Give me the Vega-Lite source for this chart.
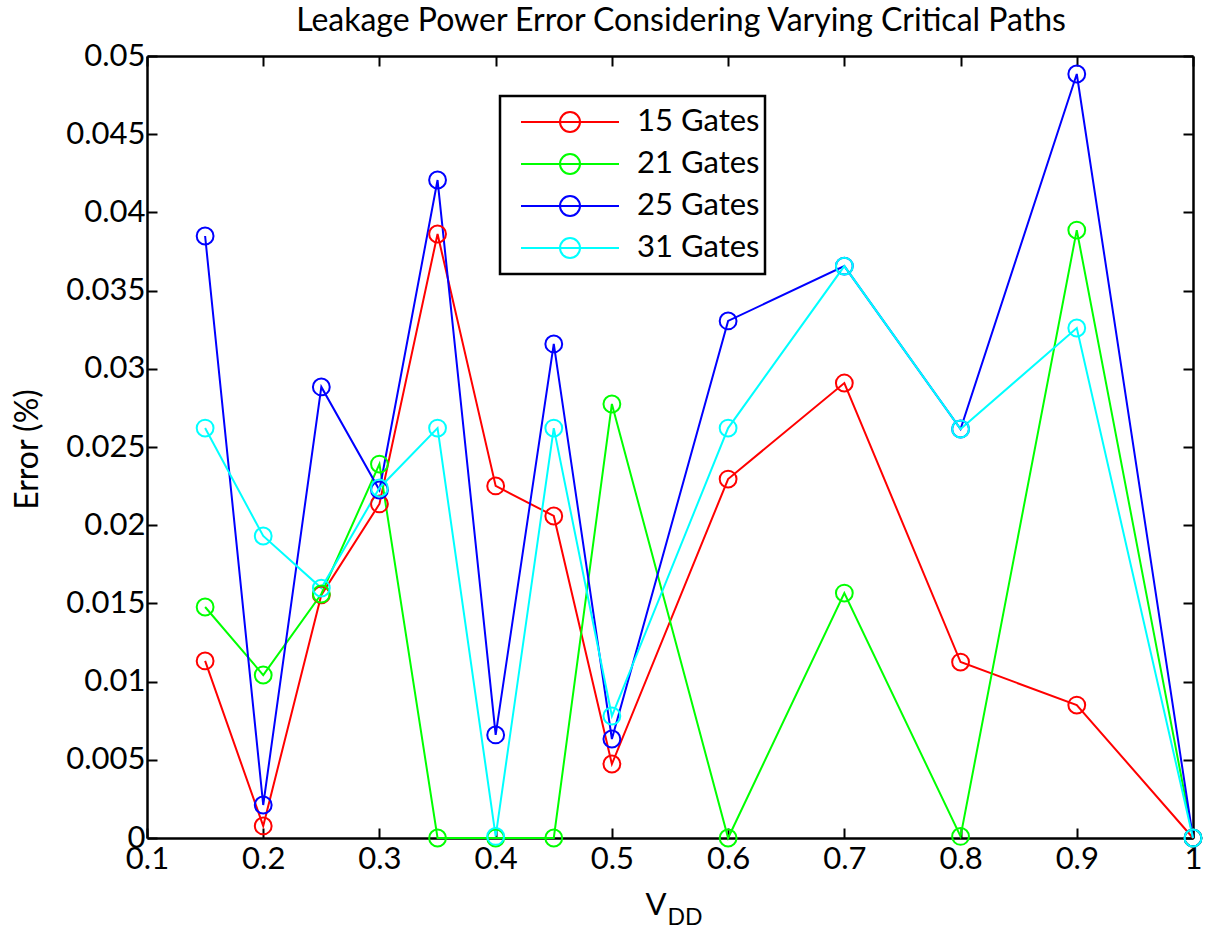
{
  "$schema": "https://vega.github.io/schema/vega-lite/v6.json",
  "width": 1046,
  "height": 782,
  "autosize": {"type": "none"},
  "padding": {"left": 147, "top": 56, "right": 20, "bottom": 94},
  "background": "white",
  "title": {
    "text": "Leakage Power Error Considering Varying Critical Paths",
    "font": "Lato",
    "fontSize": 32,
    "fontWeight": "normal",
    "color": "black",
    "anchor": "middle",
    "baseline": "alphabetic",
    "offset": -23,
    "dx": 11
  },
  "config": {
    "view": {"stroke": null},
    "axis": {
      "domainColor": "black",
      "domainWidth": 2.5,
      "tickColor": "black",
      "tickWidth": 2,
      "tickSize": -10,
      "labelFont": "Lato",
      "labelFontSize": 31,
      "labelColor": "black",
      "labelFlush": false,
      "labelOverlap": false,
      "titleFont": "Lato",
      "titleFontWeight": "normal",
      "titleColor": "black",
      "grid": false
    },
    "legend": {
      "orient": "none",
      "legendX": 353,
      "legendY": 40,
      "title": null,
      "symbolType": "M-1,0M-0.735,0L1,0M0.31,0A0.177,0.177,0,1,1,-0.044,0A0.177,0.177,0,1,1,0.31,0",
      "symbolSize": 12769,
      "symbolStrokeWidth": 2,
      "symbolFillColor": "transparent",
      "clipHeight": 42,
      "rowPadding": 0,
      "labelFont": "Lato",
      "labelFontSize": 31,
      "labelColor": "black",
      "labelOffset": 17,
      "labelLimit": 400,
      "padding": 5,
      "strokeColor": "black",
      "strokeWidth": 2.5,
      "fillColor": "white"
    }
  },
  "data": {
    "values": [
      {"vdd": 0.15, "series": "15 Gates", "err": 0.01132},
      {"vdd": 0.2, "series": "15 Gates", "err": 0.00077},
      {"vdd": 0.25, "series": "15 Gates", "err": 0.01554},
      {"vdd": 0.3, "series": "15 Gates", "err": 0.02136},
      {"vdd": 0.35, "series": "15 Gates", "err": 0.03862},
      {"vdd": 0.4, "series": "15 Gates", "err": 0.02251},
      {"vdd": 0.45, "series": "15 Gates", "err": 0.02059},
      {"vdd": 0.5, "series": "15 Gates", "err": 0.00473},
      {"vdd": 0.6, "series": "15 Gates", "err": 0.02295},
      {"vdd": 0.7, "series": "15 Gates", "err": 0.02909},
      {"vdd": 0.8, "series": "15 Gates", "err": 0.01125},
      {"vdd": 0.9, "series": "15 Gates", "err": 0.0085},
      {"vdd": 1.0, "series": "15 Gates", "err": 0},
      {"vdd": 0.15, "series": "21 Gates", "err": 0.01477},
      {"vdd": 0.2, "series": "21 Gates", "err": 0.01042},
      {"vdd": 0.25, "series": "21 Gates", "err": 0.0156},
      {"vdd": 0.3, "series": "21 Gates", "err": 0.02391},
      {"vdd": 0.35, "series": "21 Gates", "err": 0},
      {"vdd": 0.4, "series": "21 Gates", "err": 0},
      {"vdd": 0.45, "series": "21 Gates", "err": 0},
      {"vdd": 0.5, "series": "21 Gates", "err": 0.02775},
      {"vdd": 0.6, "series": "21 Gates", "err": 0},
      {"vdd": 0.7, "series": "21 Gates", "err": 0.01566},
      {"vdd": 0.8, "series": "21 Gates", "err": 0.0001},
      {"vdd": 0.9, "series": "21 Gates", "err": 0.03887},
      {"vdd": 1.0, "series": "21 Gates", "err": 0},
      {"vdd": 0.15, "series": "25 Gates", "err": 0.03849},
      {"vdd": 0.2, "series": "25 Gates", "err": 0.00211},
      {"vdd": 0.25, "series": "25 Gates", "err": 0.02884},
      {"vdd": 0.3, "series": "25 Gates", "err": 0.02225},
      {"vdd": 0.35, "series": "25 Gates", "err": 0.04207},
      {"vdd": 0.4, "series": "25 Gates", "err": 0.00659},
      {"vdd": 0.45, "series": "25 Gates", "err": 0.03159},
      {"vdd": 0.5, "series": "25 Gates", "err": 0.00633},
      {"vdd": 0.6, "series": "25 Gates", "err": 0.03306},
      {"vdd": 0.7, "series": "25 Gates", "err": 0.03657},
      {"vdd": 0.8, "series": "25 Gates", "err": 0.02615},
      {"vdd": 0.9, "series": "25 Gates", "err": 0.04885},
      {"vdd": 1.0, "series": "25 Gates", "err": 0},
      {"vdd": 0.15, "series": "31 Gates", "err": 0.02621},
      {"vdd": 0.2, "series": "31 Gates", "err": 0.01931},
      {"vdd": 0.25, "series": "31 Gates", "err": 0.01598},
      {"vdd": 0.3, "series": "31 Gates", "err": 0.02238},
      {"vdd": 0.35, "series": "31 Gates", "err": 0.02621},
      {"vdd": 0.4, "series": "31 Gates", "err": 0.0001},
      {"vdd": 0.45, "series": "31 Gates", "err": 0.02621},
      {"vdd": 0.5, "series": "31 Gates", "err": 0.0078},
      {"vdd": 0.6, "series": "31 Gates", "err": 0.02621},
      {"vdd": 0.7, "series": "31 Gates", "err": 0.03657},
      {"vdd": 0.8, "series": "31 Gates", "err": 0.02615},
      {"vdd": 0.9, "series": "31 Gates", "err": 0.03261},
      {"vdd": 1.0, "series": "31 Gates", "err": 0}
    ]
  },
  "layer": [
    {
      "mark": {
        "type": "line",
        "strokeWidth": 2,
        "point": {"filled": false, "size": 283, "strokeWidth": 2}
      },
      "encoding": {
        "x": {
          "field": "vdd",
          "type": "quantitative",
          "scale": {"domain": [0.1, 1], "nice": false, "zero": false},
          "axis": {
            "orient": "bottom",
            "values": [0.1, 0.2, 0.3, 0.4, 0.5, 0.6, 0.7, 0.8, 0.9, 1],
            "format": "~g",
            "labelPadding": 16,
            "title": "V",
            "titleFontSize": 31,
            "titleX": 498,
            "titleY": 76,
            "titleAlign": "left",
            "titleBaseline": "alphabetic"
          }
        },
        "y": {
          "field": "err",
          "type": "quantitative",
          "scale": {"domain": [0, 0.05], "nice": false, "zero": false},
          "axis": {
            "orient": "left",
            "values": [0, 0.005, 0.01, 0.015, 0.02, 0.025, 0.03, 0.035, 0.04, 0.045, 0.05],
            "format": "~g",
            "labelPadding": 12,
            "title": "Error (%)",
            "titleFontSize": 32,
            "titleAngle": -90,
            "titleX": -135,
            "titleY": 393,
            "titleAlign": "center",
            "titleBaseline": "top"
          }
        },
        "color": {
          "field": "series",
          "type": "nominal",
          "scale": {
            "domain": ["15 Gates", "21 Gates", "25 Gates", "31 Gates"],
            "range": ["#ff0000", "#00ff00", "#0000ff", "#00ffff"]
          }
        }
      }
    },
    {
      "mark": {"type": "point", "opacity": 0},
      "encoding": {
        "x": {
          "field": "vdd",
          "type": "quantitative",
          "scale": {"domain": [0.1, 1], "nice": false, "zero": false},
          "axis": {
            "orient": "top",
            "values": [0.1, 0.2, 0.3, 0.4, 0.5, 0.6, 0.7, 0.8, 0.9, 1],
            "labels": false,
            "title": null
          }
        },
        "y": {
          "field": "err",
          "type": "quantitative",
          "scale": {"domain": [0, 0.05], "nice": false, "zero": false},
          "axis": {
            "orient": "right",
            "values": [0, 0.005, 0.01, 0.015, 0.02, 0.025, 0.03, 0.035, 0.04, 0.045, 0.05],
            "labels": false,
            "title": null
          }
        }
      }
    },
    {
      "mark": {"type": "point", "opacity": 0},
      "encoding": {
        "x": {
          "field": "vdd",
          "type": "quantitative",
          "scale": {"domain": [0.1, 1], "nice": false, "zero": false},
          "axis": {
            "orient": "bottom",
            "domain": false,
            "ticks": false,
            "labels": false,
            "title": "DD",
            "titleFontSize": 23,
            "titleX": 520,
            "titleY": 86,
            "titleAlign": "left",
            "titleBaseline": "alphabetic"
          }
        },
        "y": {
          "field": "err",
          "type": "quantitative",
          "axis": null
        }
      }
    }
  ],
  "resolve": {"axis": {"x": "independent", "y": "independent"}}
}
